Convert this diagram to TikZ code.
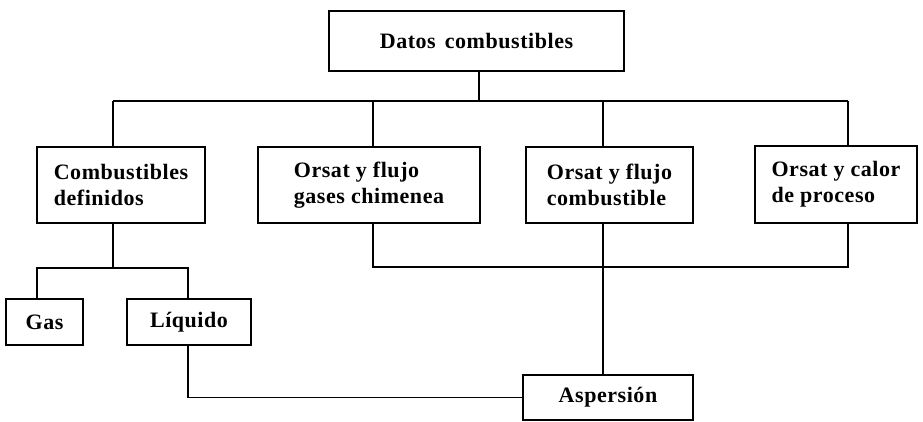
\documentclass[tikz,border=0pt]{standalone}
\usepackage{fontspec}
\setmainfont{Liberation Serif}[LetterSpace=2.5]
\begin{document}
\begin{tikzpicture}[x=1pt,y=-1pt,
  box/.style={draw, line width=1.7pt, inner sep=0pt, align=left,
    font=\fontsize{22}{26}\selectfont\bfseries},
  wire/.style={line width=1.7pt}]
\useasboundingbox (0,0) rectangle (923,422);

% boxes
\node[box, minimum width=295, minimum height=60] (top) at (476.5,41) {Datos\hspace{3pt} combustibles};
\node[box, minimum width=168, minimum height=76] (cd)  at (121,185)   {Combustibles\\definidos};
\node[box, minimum width=222, minimum height=76] (gc)  at (369,185)   {Orsat y flujo\\gases chimenea};
\node[box, minimum width=167, minimum height=76] (fc)  at (609.5,185) {Orsat y flujo\\combustible};
\node[box, minimum width=162, minimum height=77] (cp)  at (836,184.5) {Orsat y calor\\de proceso};
\node[box, minimum width=77,  minimum height=46] (gas) at (44.5,322)  {Gas};
\node[box, minimum width=124, minimum height=46] (liq) at (189,322)   {Líquido};
\node[box, minimum width=170, minimum height=45] (asp) at (608,397.5) {Aspersión};

% junction points
\coordinate (b1) at (113,101);
\coordinate (b2) at (373,101);
\coordinate (b3) at (603,101);
\coordinate (b4) at (848,101);
\coordinate (t0) at (479,101);
\coordinate (g1) at (37,268);
\coordinate (g2) at (188,268);
\coordinate (r1) at (373,267);
\coordinate (r2) at (848,267);

% top level distribution
\draw[wire] (t0 |- top.south) -- (t0);
\draw[wire] (b1) -- (b4);
\draw[wire] (b1) -- (b1 |- cd.north);
\draw[wire] (b2) -- (b2 |- gc.north);
\draw[wire] (b3) -- (b3 |- fc.north);
\draw[wire] (b4) -- (b4 |- cp.north);

% fuel types
\draw[wire] (b1 |- cd.south) -- (b1 |- g1);
\draw[wire] (g1 |- gas.north) -- (g1) -- (g2) -- (g2 |- liq.north);

% return bus from flue gas and process heat
\draw[wire] (r1 |- gc.south) -- (r1) -- (r2) -- (r2 |- cp.south);

% spray
\draw[wire] (b3 |- fc.south) -- (b3 |- asp.north);
\draw[wire] (g2 |- liq.south) |- (asp.west);
\end{tikzpicture}
\end{document}
